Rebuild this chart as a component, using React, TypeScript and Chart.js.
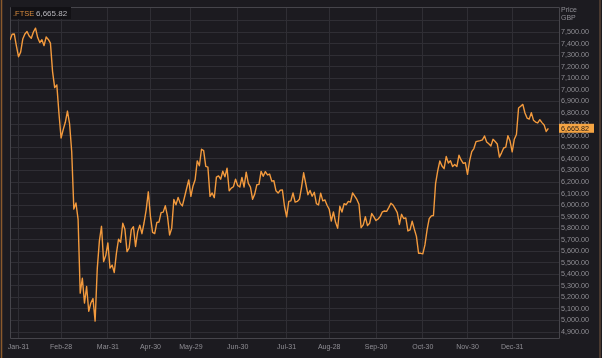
import { useEffect, useRef } from "react";
import { Chart, registerables } from "chart.js";

Chart.register(...registerables);

// ---- data ----
const symbol = ".FTSE";
const lastPriceLabel = "6,665.82";
const axisTitle = ["Price", "GBP"];

// trading-day index of each labelled month-end (index 0 = first point)
const tickDays = [4, 24, 46, 66, 85, 107, 130, 150, 172, 194, 215, 236];
const tickLabels = [
  "Jan-31", "Feb-28", "Mar-31", "Apr-30", "May-29", "Jun-30",
  "Jul-31", "Aug-28", "Sep-30", "Oct-30", "Nov-30", "Dec-31",
];

// daily closes, one per trading day
const janFeb = [
  7430, 7481, 7483, 7381, 7286,
  7326, 7439, 7483, 7505, 7466, 7446, 7500, 7534, 7452, 7409,
  7433, 7382, 7457, 7436, 7404, 7157, 7018, 7042, 6796, 6581,
];
const mar = [
  6654, 6718, 6815, 6705, 6462, 5965, 6018, 5876, 5237, 5366,
  5151, 5294, 5080, 5151, 5190, 4994, 5446, 5688, 5816, 5510, 5563, 5672,
];
const apr = [
  5454, 5480, 5416, 5582, 5704, 5677, 5843, 5791, 5597, 5628,
  5787, 5812, 5641, 5770, 5826, 5752, 5847, 5959, 6115, 5901,
];
const may = [
  5763, 5753, 5849, 5853, 5935, 5939, 5994, 5904, 5741, 5800,
  6048, 6002, 6067, 6015, 5993, 6068, 6144, 6218, 6076,
];
const jun = [
  6166, 6220, 6383, 6341, 6484, 6472, 6335, 6329, 6076, 6105, 6064,
  6243, 6253, 6224, 6293, 6245, 6320, 6124, 6147, 6159, 6225, 6170,
];
const jul = [
  6157, 6240, 6157, 6286, 6189, 6156, 6050, 6095, 6176, 6180, 6292, 6250,
  6290, 6261, 6269, 6208, 6211, 6124, 6104, 6129, 6132, 5990, 5898,
];
const aug = [
  6032, 6036, 6105, 6026, 6032, 6050, 6154, 6280, 6185, 6090,
  6127, 6077, 6111, 6013, 6001, 6104, 6037, 6045, 5999, 5964,
];
const sep = [
  5862, 5940, 5851, 5799, 5990, 5940, 6012, 6003, 6032, 6026, 6105,
  6078, 6049, 6007, 5804, 5829, 5899, 5822, 5842, 5927, 5898, 5866,
];
const oct = [
  5879, 5902, 5942, 5949, 5946, 5978, 6016, 6001, 5969, 5935, 5832,
  5920, 5884, 5889, 5776, 5785, 5860, 5792, 5729, 5583, 5582, 5577,
];
const nov = [
  5655, 5786, 5883, 5906, 5910, 6186, 6296, 6382, 6339, 6316, 6421,
  6365, 6385, 6334, 6351, 6334, 6432, 6391, 6362, 6367, 6266,
];
const dec = [
  6385, 6463, 6490, 6550, 6555, 6559, 6565, 6599, 6547, 6531, 6513,
  6570, 6551, 6529, 6416, 6453, 6495, 6502, 6602, 6555, 6461,
];
const jan21 = [
  6571, 6612, 6841, 6857, 6873, 6798, 6754, 6745, 6801, 6736,
  6720, 6712, 6740, 6715, 6695, 6638, 6665.82,
];

const prices = [
  ...janFeb, ...mar, ...apr, ...may, ...jun, ...jul,
  ...aug, ...sep, ...oct, ...nov, ...dec, ...jan21,
];

const yMin = 4848;
const yMax = 7717;
const xMax = 258;

// ---- styles ----
const BG = "#1c1b20";
const GRID = "#2f2e34";
const FRAME = "#46454b";
const LINE = "#f39a3d";
const TEXT = "#8f8e94";
const FONT = "'Liberation Sans', Arial, sans-serif";

export default function App() {
  const ref = useRef<HTMLCanvasElement | null>(null);

  useEffect(() => {
    document.body.style.margin = "0";
    document.body.style.background = BG;
    const canvas = ref.current;
    if (!canvas) return;

    const decor = {
      id: "decor",
      beforeDraw(chart: any) {
        const c = chart.ctx;
        c.save();
        c.fillStyle = BG;
        c.fillRect(0, 0, chart.width, chart.height);
        c.restore();
      },
      beforeDatasetsDraw(chart: any) {
        const c = chart.ctx;
        const a = chart.chartArea;
        c.save();
        c.strokeStyle = FRAME;
        c.lineWidth = 1;
        c.beginPath();
        c.moveTo(Math.round(a.left) + 0.5, Math.round(a.top) + 0.5);
        c.lineTo(Math.round(a.right) + 0.5, Math.round(a.top) + 0.5);
        c.lineTo(Math.round(a.right) + 0.5, Math.round(a.bottom) + 0.5);
        c.lineTo(Math.round(a.left) + 0.5, Math.round(a.bottom) + 0.5);
        c.closePath();
        c.stroke();
        c.restore();
      },
      afterDraw(chart: any) {
        const c = chart.ctx;
        const a = chart.chartArea;
        const ys = chart.scales.y;
        c.save();
        // outer side borders
        c.strokeStyle = "#8a5a2c";
        c.lineWidth = 1.5;
        c.beginPath();
        c.moveTo(1.5, 0);
        c.lineTo(1.5, chart.height);
        c.stroke();
        c.strokeStyle = "#5a4434";
        c.beginPath();
        c.moveTo(600, 0);
        c.lineTo(600, chart.height);
        c.stroke();

        // symbol box
        c.fillStyle = "#121115";
        c.fillRect(a.left + 1, a.top, 60, 12);
        c.textBaseline = "middle";
        c.textAlign = "left";
        c.font = `7.5px ${FONT}`;
        c.fillStyle = "#d98b3e";
        c.fillText(symbol, a.left + 3, a.top + 6.5);
        c.font = `8px ${FONT}`;
        c.fillStyle = "#b8b7bc";
        c.fillText(lastPriceLabel, a.left + 26, a.top + 6.5);

        // axis title
        c.font = `7px ${FONT}`;
        c.fillStyle = TEXT;
        c.fillText(axisTitle[0], a.right + 2, 10);
        c.fillText(axisTitle[1], a.right + 2, 18);

        // last price tag
        const last = prices[prices.length - 1];
        const py = ys.getPixelForValue(last);
        c.fillStyle = "#f5a443";
        c.fillRect(a.right, py - 4.5, 35, 9);
        c.font = `7.2px ${FONT}`;
        c.fillStyle = "#2b2119";
        c.fillText(lastPriceLabel, a.right + 2, py + 0.5);
        c.restore();
      },
    };

    const chart = new Chart(canvas, {
      type: "line",
      data: {
        datasets: [
          {
            data: prices.map((v, i) => ({ x: i, y: v })),
            borderColor: LINE,
            borderWidth: 1.4,
            pointRadius: 0,
            tension: 0,
            borderJoinStyle: "round",
            fill: false,
          },
        ],
      },
      options: {
        animation: false,
        responsive: false,
        maintainAspectRatio: false,
        devicePixelRatio: 1,
        layout: { padding: { left: 10, top: 7, right: 0, bottom: 0 } },
        plugins: {
          legend: { display: false },
          tooltip: { enabled: false },
        },
        scales: {
          x: {
            type: "linear",
            min: 0,
            max: xMax,
            afterBuildTicks: (scale: any) => {
              scale.ticks = tickDays.map((d) => ({ value: d }));
            },
            afterFit: (scale: any) => {
              scale.height = 20;
              scale.paddingLeft = 0;
              scale.paddingRight = 0;
            },
            ticks: {
              autoSkip: false,
              maxRotation: 0,
              padding: 5,
              color: TEXT,
              font: { size: 7, family: FONT },
              callback: (_v: any, i: number) => tickLabels[i],
            },
            grid: { color: GRID, drawTicks: false, lineWidth: 1 },
            border: { display: false },
          },
          y: {
            type: "linear",
            position: "right",
            min: yMin,
            max: yMax,
            afterFit: (scale: any) => {
              scale.width = 43;
            },
            ticks: {
              stepSize: 100,
              includeBounds: false,
              padding: 2,
              color: TEXT,
              font: { size: 7.2, family: FONT },
              callback: (v: any) =>
                Number(v) > 7500
                  ? ""
                  : Number(v).toLocaleString("en-US", {
                      minimumFractionDigits: 2,
                      maximumFractionDigits: 2,
                    }),
            },
            grid: {
              drawTicks: false,
              lineWidth: 1,
              color: (ctx: any) =>
                ctx.tick && ctx.tick.value > 7650 ? "rgba(0,0,0,0)" : GRID,
            },
            border: { display: false },
          },
        },
      },
      plugins: [decor],
    } as any);

    return () => chart.destroy();
  }, []);

  return (
    <div style={{ width: 602, height: 358, background: BG }}>
      <canvas ref={ref} width={602} height={358} style={{ display: "block" }} />
    </div>
  );
}
